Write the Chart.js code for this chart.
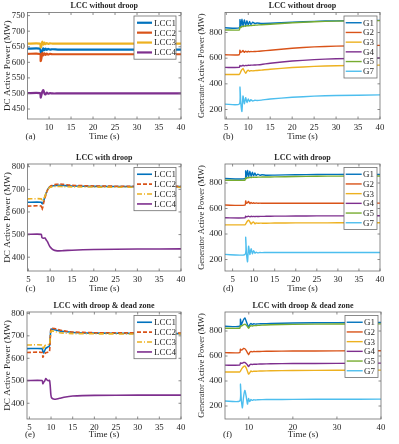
<!DOCTYPE html>
<html>
<head>
<meta charset="utf-8">
<title>LCC droop comparison</title>
<script src="https://cdn.jsdelivr.net/npm/chart.js@4.4.1/dist/chart.umd.min.js"></script>
<style>
  html, body { margin: 0; padding: 0; background: #fff; }
  #figure { position: relative; width: 399px; height: 444px; overflow: hidden; }
  #figure canvas { position: absolute; }
</style>
</head>
<body>
<div id="figure"></div>
<script>
const SERIF = "'Liberation Serif', 'DejaVu Serif', serif"
const INK = "#262626"
const C_BLUE = "#0072BD"
const C_RED = "#D95319"
const C_YELLOW = "#EDB120"
const C_PURPLE = "#7E2F8E"
const C_GREEN = "#77AC30"
const C_CYAN = "#4DBEEE"

// tick labels
const X_TICKS_5 = [5, 10, 15, 20, 25, 30, 35, 40]
const X_TICKS_A = [10, 15, 20, 25, 30, 35, 40]
const X_TICKS_F = [10, 20, 30, 40]
const Y_TICKS_A = [450, 500, 550, 600, 650, 700, 750]
const Y_TICKS_LCC = [400, 500, 600, 700, 800]
const Y_TICKS_GEN = [200, 400, 600, 800]

const LCC_LABELS = ["LCC1", "LCC2", "LCC3", "LCC4"]
const GEN_LABELS = ["G1", "G2", "G3", "G4", "G5", "G7"]

// (a) LCC without droop - DC power (MW)
const timeA = [5.1, 7.95, 8.1, 8.25, 8.45, 8.7, 8.95, 9.2, 9.5, 9.8, 10.2, 10.8, 12, 15, 20, 30, 40]
const lcc1A = [644, 644, 633, 628, 635, 645, 639, 644, 640, 643, 641, 642, 641, 641, 641, 641, 641]
const lcc2A = [627, 627, 604, 612, 630, 622, 629, 624, 628, 625, 627, 626, 626, 626, 626, 626, 626]
const lcc3A = [660, 660, 648, 652, 666, 657, 663, 658, 662, 659, 661, 660, 660, 660, 660, 660, 660]
const lcc4A = [501, 501, 487, 494, 505, 511, 500, 497, 503, 499, 501, 500, 500, 500, 500, 500, 500]

// (b) LCC without droop - generator power (MW)
const timeB = [4.7, 7.95, 8.1, 8.3, 8.55, 8.8, 9.1, 9.4, 9.7, 10.0, 10.3, 10.6, 11.0, 11.5, 12, 13, 15, 20, 25, 30, 40]
const g1B = [837, 837, 900, 845, 903, 850, 898, 855, 892, 858, 886, 862, 880, 870, 874, 871, 872, 880, 887, 891, 895]
const g2B = [627, 627, 662, 645, 650, 660, 645, 655, 648, 654, 650, 652, 651, 652, 653, 656, 662, 677, 688, 694, 700]
const g3B = [473, 473, 480, 495, 510, 520, 500, 483, 498, 507, 498, 503, 501, 503, 504, 507, 514, 527, 536, 541, 546]
const g4B = [528, 528, 543, 538, 541, 545, 540, 544, 542, 545, 544, 546, 546, 547, 548, 551, 561, 578, 589, 595, 601]
const g5B = [820, 820, 843, 838, 848, 846, 851, 849, 853, 852, 854, 854, 856, 857, 858, 861, 865, 876, 884, 889, 893]
const g7B = [242, 242, 375, 250, 185, 305, 245, 292, 255, 282, 262, 276, 266, 272, 270, 273, 282, 295, 304, 309, 314]

// (c) LCC with droop - DC power (MW)
const timeC = [4.8, 7.95, 8.1, 8.3, 8.5, 8.8, 9.1, 9.4, 9.7, 10.0, 10.4, 10.8, 11.3, 12, 13, 15, 20, 30, 40]
const lcc1C = [643, 643, 638, 636, 648, 668, 685, 698, 707, 712, 715, 716, 717, 718, 717, 715, 713, 712, 712]
const lcc2C = [626, 626, 608, 620, 640, 662, 682, 697, 707, 713, 717, 720, 722, 724, 722, 718, 715, 713, 713]
const lcc3C = [658, 658, 648, 650, 655, 670, 686, 698, 705, 709, 711, 712, 713, 713, 712, 711, 710, 709, 709]
const lcc4C = [501, 501, 487, 485, 484, 485, 476, 468, 455, 445, 437, 432, 429, 428, 429, 431, 434, 436, 437]

// (d) LCC with droop - generator power (MW)
const timeD = [3.2, 7.95, 8.1, 8.3, 8.55, 8.8, 9.1, 9.4, 9.7, 10.0, 10.3, 10.6, 11.0, 11.5, 12, 13, 15, 20, 25, 30, 40]
const g1D = [835, 835, 895, 845, 898, 850, 893, 853, 885, 856, 878, 858, 870, 860, 865, 861, 862, 865, 867, 868, 868]
const g2D = [627, 627, 660, 640, 645, 655, 638, 648, 640, 645, 640, 643, 641, 642, 641, 641, 641, 641, 641, 641, 642]
const g3D = [472, 472, 478, 490, 502, 508, 495, 478, 490, 494, 480, 486, 484, 485, 485, 485, 486, 487, 487, 488, 488]
const g4D = [527, 527, 540, 535, 537, 540, 535, 539, 536, 538, 536, 538, 537, 538, 538, 539, 540, 541, 542, 542, 543]
const g5D = [822, 822, 840, 835, 843, 840, 845, 842, 846, 844, 846, 845, 846, 846, 847, 847, 848, 851, 853, 854, 855]
const g7D = [240, 240, 375, 250, 182, 305, 240, 285, 245, 270, 250, 258, 252, 255, 254, 255, 255, 255, 255, 255, 255]

// (e) LCC with droop & dead zone - DC power (MW)
const timeE = [4.45, 7.95, 8.1, 8.3, 8.55, 8.8, 9.1, 9.4, 9.65, 9.8, 9.95, 10.1, 10.4, 10.8, 11.3, 12, 13, 15, 20, 30, 40]
const lcc1E = [643, 643, 630, 624, 635, 645, 648, 652, 655, 690, 728, 730, 729, 727, 725, 722, 719, 715, 712, 711, 710]
const lcc2E = [626, 626, 605, 612, 620, 625, 626, 628, 630, 680, 730, 735, 734, 732, 730, 726, 722, 717, 714, 713, 712]
const lcc3E = [659, 659, 640, 645, 655, 660, 660, 661, 662, 690, 718, 722, 721, 719, 717, 714, 712, 710, 709, 708, 708]
const lcc4E = [501, 501, 487, 493, 500, 510, 503, 500, 502, 480, 440, 425, 420, 418, 419, 422, 427, 432, 435, 436, 436]

// (f) LCC with droop & dead zone - generator power (MW)
const timeF = [4.6, 7.95, 8.1, 8.3, 8.55, 8.8, 9.1, 9.4, 9.7, 9.95, 10.2, 10.5, 10.8, 11.1, 11.5, 12, 13, 15, 20, 30, 40]
const g1F = [838, 838, 895, 850, 870, 890, 905, 880, 850, 828, 850, 860, 852, 858, 855, 857, 858, 860, 864, 867, 868]
const g2F = [627, 627, 655, 648, 650, 660, 658, 645, 625, 610, 628, 637, 633, 636, 635, 636, 637, 638, 640, 641, 642]
const g3F = [472, 472, 478, 492, 505, 515, 520, 505, 478, 455, 465, 480, 475, 478, 478, 479, 480, 482, 484, 486, 487]
const g4F = [527, 527, 545, 542, 543, 548, 548, 540, 528, 515, 528, 535, 532, 534, 534, 535, 536, 538, 540, 541, 543]
const g5F = [822, 822, 840, 840, 845, 850, 855, 848, 835, 822, 835, 842, 840, 843, 843, 845, 847, 850, 853, 856, 857]
const g7F = [240, 240, 375, 250, 185, 270, 325, 280, 215, 260, 235, 252, 245, 250, 248, 250, 251, 252, 253, 254, 255]

const LCC_COLORS = [C_BLUE, C_RED, C_YELLOW, C_PURPLE]
const GEN_COLORS = [C_BLUE, C_RED, C_YELLOW, C_PURPLE, C_GREEN, C_CYAN]
const SOLID = [[], [], [], []]
const DROOP_DASH = [[], [4, 2], [5, 2, 1, 2], []]

// legend box layouts
const LCC_LEGEND = { width: 42, right: 5, top: 3.5, rowH: 9.9, padY: 1.8, lineX0: 3, lineX1: 18, textX: 20 }
const GEN_LEGEND = { width: 33, right: 3, top: 3.5, rowH: 9.7, padY: 1.9, lineX0: 1.7, lineX1: 17.7, textX: 19 }

// Draws title, panel tag, axes box with inward ticks and the boxed legend
const panelDecor = {
  id: "panelDecor",
  afterDraw(chart, args, opts) {
    const { ctx, chartArea: a, scales } = chart
    ctx.save()

    // axes box
    ctx.strokeStyle = "#6e6e6e"
    ctx.lineWidth = 0.8
    ctx.strokeRect(a.left, a.top, a.right - a.left, a.bottom - a.top)

    // inward tick marks on all four sides
    ctx.beginPath()
    scales.x.ticks.forEach((t) => {
      const px = scales.x.getPixelForValue(t.value)
      ctx.moveTo(px, a.bottom); ctx.lineTo(px, a.bottom - 2.5)
      ctx.moveTo(px, a.top); ctx.lineTo(px, a.top + 2.5)
    })
    scales.y.ticks.forEach((t) => {
      const py = scales.y.getPixelForValue(t.value)
      ctx.moveTo(a.left, py); ctx.lineTo(a.left + 2.5, py)
      ctx.moveTo(a.right, py); ctx.lineTo(a.right - 2.5, py)
    })
    ctx.stroke()

    // title
    ctx.fillStyle = INK
    ctx.font = "bold 8px " + SERIF
    ctx.textAlign = "center"
    ctx.textBaseline = "middle"
    ctx.fillText(opts.title, (a.left + a.right) / 2, a.top - 6.5)

    // panel tag, e.g. (a)
    ctx.font = "9px " + SERIF
    ctx.textAlign = "left"
    ctx.fillText(opts.tag, a.left - 2, opts.tagY)

    // legend
    const lg = opts.legend
    const sets = chart.data.datasets
    const boxH = sets.length * lg.rowH + lg.padY * 2
    const bx = a.right - lg.right - lg.width
    const by = a.top + lg.top
    ctx.fillStyle = "#fff"
    ctx.fillRect(bx, by, lg.width, boxH)
    ctx.strokeStyle = "#6e6e6e"
    ctx.lineWidth = 0.8
    ctx.strokeRect(bx, by, lg.width, boxH)
    sets.forEach((ds, i) => {
      const cy = by + lg.padY + lg.rowH * (i + 0.5)
      ctx.strokeStyle = ds.borderColor
      ctx.lineWidth = ds.borderWidth
      ctx.setLineDash(ds.borderDash)
      ctx.beginPath()
      ctx.moveTo(bx + lg.lineX0, cy)
      ctx.lineTo(bx + lg.lineX1, cy)
      ctx.stroke()
      ctx.setLineDash([])
      ctx.fillStyle = INK
      ctx.font = "9px " + SERIF
      ctx.textAlign = "left"
      ctx.textBaseline = "middle"
      ctx.fillText(ds.label, bx + lg.textX, cy + 0.5)
    })
    ctx.restore()
  },
}

function makePanel(cfg) {
  const canvas = document.createElement("canvas")
  canvas.width = cfg.cell.w
  canvas.height = cfg.cell.h
  canvas.style.left = cfg.cell.x + "px"
  canvas.style.top = cfg.cell.y + "px"
  document.getElementById("figure").appendChild(canvas)

  const yAxisWidth = cfg.plot.l - cfg.cell.x
  const xAxisHeight = cfg.cell.y + cfg.cell.h - cfg.plot.b
  const xTitleFont = 9
  const xTitleOffset = cfg.xTitleCenter
  const tickFont = { family: SERIF, size: 8.8 }

  return new Chart(canvas, {
    type: "line",
    data: {
      datasets: cfg.labels.map((label, i) => ({
        label: label,
        data: cfg.time.map((t, k) => ({ x: t, y: cfg.values[i][k] })),
        borderColor: cfg.colors[i],
        borderWidth: cfg.lineWidth,
        borderDash: cfg.dashes ? cfg.dashes[i] : [],
        pointRadius: 0,
        tension: 0.2,
        order: -i,
      })),
    },
    options: {
      responsive: false,
      animation: false,
      events: [],
      layout: {
        padding: { left: 0, bottom: 0, top: cfg.plot.t - cfg.cell.y, right: cfg.cell.x + cfg.cell.w - cfg.plot.r },
      },
      plugins: {
        legend: { display: false },
        tooltip: { enabled: false },
        panelDecor: { title: cfg.title, tag: cfg.tag, tagY: cfg.cell.h - xTitleOffset, legend: cfg.legend },
      },
      scales: {
        x: {
          type: "linear",
          min: cfg.xMin,
          max: 40,
          afterBuildTicks: (s) => { s.ticks = cfg.xTicks.map((v) => ({ value: v })) },
          afterFit: (s) => { s.height = xAxisHeight },
          grid: { display: false, drawTicks: false },
          border: { display: false },
          ticks: { color: INK, font: tickFont, padding: 3, maxRotation: 0, autoSkip: false },
          title: {
            display: true,
            text: "Time (s)",
            color: INK,
            font: { family: SERIF, size: xTitleFont, lineHeight: 1.2 },
            padding: { top: 0, bottom: xTitleOffset - xTitleFont * 0.6 },
          },
        },
        y: {
          type: "linear",
          min: cfg.yMin,
          max: cfg.yMax,
          afterBuildTicks: (s) => { s.ticks = cfg.yTicks.map((v) => ({ value: v })) },
          afterFit: (s) => { s.width = yAxisWidth },
          grid: { display: false, drawTicks: false },
          border: { display: false },
          ticks: { color: INK, font: tickFont, padding: 2.5, autoSkip: false },
          title: {
            display: true,
            text: cfg.yTitle,
            color: INK,
            font: { family: SERIF, size: cfg.yTitleSize, lineHeight: 1.2 },
            padding: { top: cfg.yTitlePad, bottom: 0 },
          },
        },
      },
    },
    plugins: [panelDecor],
  })
}

const LEFT = { x: 0, w: 197 }
const RIGHT = { x: 197, w: 202 }
const ROWS = [0, 148, 296]

const lccPanel = (extra) => Object.assign({
  labels: LCC_LABELS,
  colors: LCC_COLORS,
  yTitle: "DC Active Power (MW)",
  yTitleSize: 9.2,
  yTitlePad: 2,
  legend: LCC_LEGEND,
  lineWidth: 1.6,
}, extra)

const genPanel = (extra) => Object.assign({
  labels: GEN_LABELS,
  colors: GEN_COLORS,
  yTitle: "Generator Active Power (MW)",
  yTitleSize: 8.4,
  yTitlePad: 0,
  legend: GEN_LEGEND,
  yTicks: Y_TICKS_GEN,
  lineWidth: 1.4,
}, extra)

makePanel(lccPanel({
  cell: { x: LEFT.x, y: ROWS[0], w: LEFT.w, h: 148 },
  plot: { l: 27.5, t: 12.5, r: 181, b: 119 },
  title: "LCC without droop", tag: "(a)", xTitleCenter: 11.3,
  time: timeA, values: [lcc1A, lcc2A, lcc3A, lcc4A], dashes: SOLID, lineWidth: 2.2,
  xMin: 5.1, xTicks: X_TICKS_A, yMin: 418, yMax: 760, yTicks: Y_TICKS_A,
}))

makePanel(genPanel({
  cell: { x: RIGHT.x, y: ROWS[0], w: RIGHT.w, h: 148 },
  plot: { l: 225, t: 12.5, r: 380, b: 119 },
  title: "LCC without droop", tag: "(b)", xTitleCenter: 11.3,
  time: timeB, values: [g1B, g2B, g3B, g4B, g5B, g7B],
  xMin: 4.7, xTicks: X_TICKS_5, yMin: 126, yMax: 956,
}))

makePanel(lccPanel({
  cell: { x: LEFT.x, y: ROWS[1], w: LEFT.w, h: 148 },
  plot: { l: 27.5, t: 164, r: 181, b: 271 },
  title: "LCC with droop", tag: "(c)", xTitleCenter: 7.7,
  time: timeC, values: [lcc1C, lcc2C, lcc3C, lcc4C], dashes: DROOP_DASH,
  xMin: 4.8, xTicks: X_TICKS_5, yMin: 339, yMax: 812, yTicks: Y_TICKS_LCC,
}))

makePanel(genPanel({
  cell: { x: RIGHT.x, y: ROWS[1], w: RIGHT.w, h: 148 },
  plot: { l: 225, t: 164, r: 380, b: 271 },
  title: "LCC with droop", tag: "(d)", xTitleCenter: 7.7,
  time: timeD, values: [g1D, g2D, g3D, g4D, g5D, g7D],
  xMin: 3.2, xTicks: X_TICKS_5, yMin: 110, yMax: 949,
}))

makePanel(lccPanel({
  cell: { x: LEFT.x, y: ROWS[2], w: LEFT.w, h: 148 },
  plot: { l: 27, t: 312, r: 181, b: 419 },
  title: "LCC with droop & dead zone", tag: "(e)", xTitleCenter: 9,
  time: timeE, values: [lcc1E, lcc2E, lcc3E, lcc4E], dashes: DROOP_DASH,
  xMin: 4.45, xTicks: X_TICKS_5, yMin: 330, yMax: 806, yTicks: Y_TICKS_LCC,
}))

makePanel(genPanel({
  cell: { x: RIGHT.x, y: ROWS[2], w: RIGHT.w, h: 148 },
  plot: { l: 225, t: 312, r: 381, b: 419 },
  title: "LCC with droop & dead zone", tag: "(f)", xTitleCenter: 9,
  time: timeF, values: [g1F, g2F, g3F, g4F, g5F, g7F],
  xMin: 4.6, xTicks: X_TICKS_F, yMin: 96, yMax: 952,
}))
</script>
</body>
</html>
